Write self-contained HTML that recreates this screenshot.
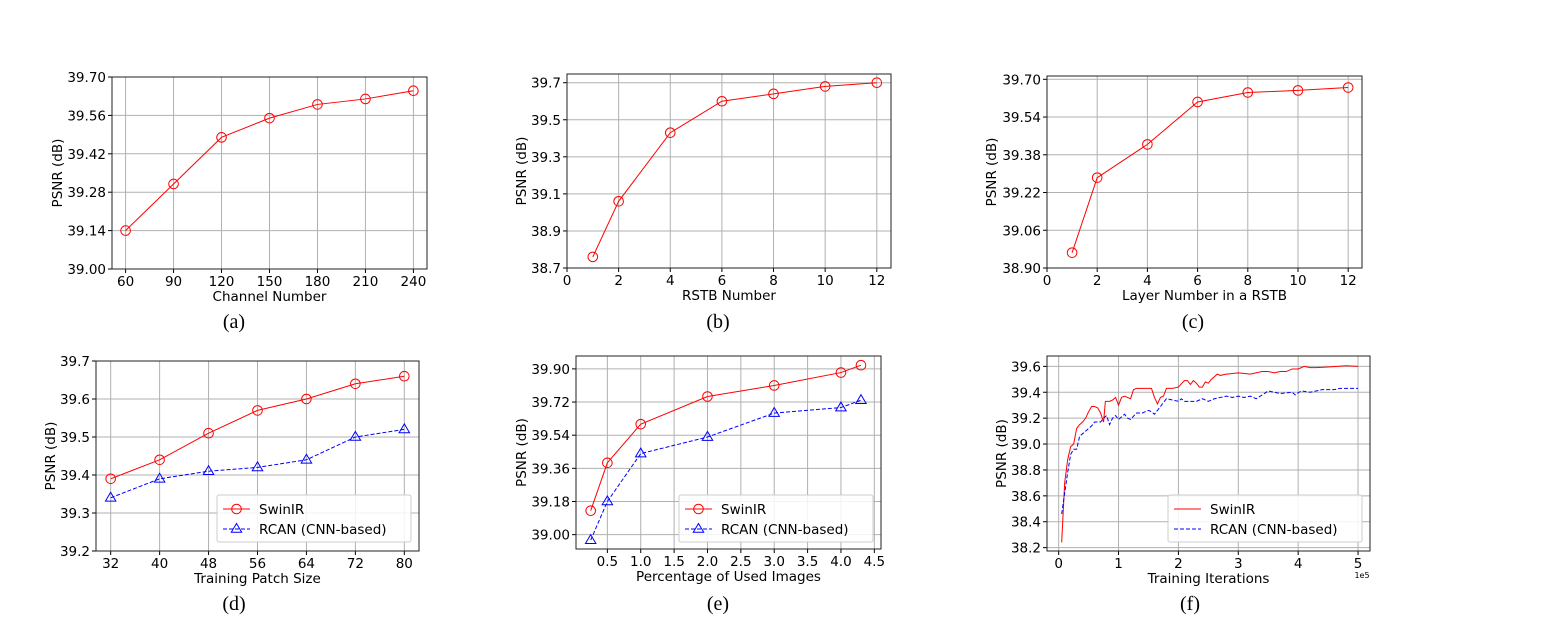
<!DOCTYPE html>
<html><head><meta charset="utf-8"><style>
body{margin:0;background:#fff;}
svg{display:block;font-family:"DejaVu Sans","Liberation Sans",sans-serif;}
</style></head><body>
<svg id="fig" width="1543" height="626" viewBox="0 0 1543 626" xmlns="http://www.w3.org/2000/svg"></svg>
<script>
// ---- data ----
const aX=[60,90,120,150,180,210,240];
const aY=[39.14,39.31,39.48,39.55,39.60,39.62,39.65];
const aTicksX=[60,90,120,150,180,210,240];
const aTicksY=["39.00","39.14","39.28","39.42","39.56","39.70"];

const bX=[1,2,4,6,8,10,12];
const bY=[38.76,39.06,39.43,39.60,39.64,39.68,39.70];
const bTicksX=[0,2,4,6,8,10,12];
const bTicksY=["38.7","38.9","39.1","39.3","39.5","39.7"];

const cX=[1,2,4,6,8,10,12];
const cY=[38.965,39.283,39.424,39.604,39.644,39.653,39.665];
const cTicksX=[0,2,4,6,8,10,12];
const cTicksY=["38.90","39.06","39.22","39.38","39.54","39.70"];

const dX=[32,40,48,56,64,72,80];
const dSwin=[39.39,39.44,39.51,39.57,39.60,39.64,39.66];
const dRcan=[39.34,39.39,39.41,39.42,39.44,39.50,39.52];
const dTicksX=[32,40,48,56,64,72,80];
const dTicksY=["39.2","39.3","39.4","39.5","39.6","39.7"];

const eX=[0.25,0.5,1,2,3,4,4.3];
const eSwin=[39.13,39.39,39.60,39.75,39.81,39.88,39.92];
const eRcan=[38.97,39.18,39.44,39.53,39.66,39.69,39.73];
const eTicksX=["0.5","1.0","1.5","2.0","2.5","3.0","3.5","4.0","4.5"];
const eTicksY=["39.00","39.18","39.36","39.54","39.72","39.90"];

const fSwinX=[0.05,0.1,0.15,0.2,0.25,0.3,0.35,0.4,0.45,0.5,0.55,0.6,0.65,0.7,0.75,0.78,0.85,0.9,0.95,1.0,1.05,1.1,1.2,1.25,1.3,1.4,1.5,1.55,1.6,1.65,1.7,1.75,1.8,1.9,2.0,2.1,2.15,2.2,2.25,2.3,2.35,2.4,2.45,2.5,2.55,2.65,2.7,2.8,3.0,3.2,3.4,3.5,3.6,3.7,3.8,3.9,4.0,4.1,4.2,4.3,4.5,4.8,5.0];
const fSwinY=[38.24,38.7,38.88,38.98,39.0,39.12,39.15,39.17,39.2,39.25,39.29,39.29,39.28,39.24,39.17,39.33,39.33,39.34,39.36,39.3,39.36,39.37,39.35,39.42,39.43,39.43,39.43,39.43,39.36,39.31,39.36,39.37,39.43,39.43,39.44,39.49,39.49,39.46,39.49,39.47,39.44,39.44,39.48,39.47,39.5,39.54,39.53,39.54,39.55,39.54,39.56,39.56,39.55,39.56,39.56,39.58,39.58,39.6,39.59,39.59,39.595,39.605,39.6];
const fRcanX=[0.05,0.1,0.15,0.2,0.25,0.3,0.35,0.4,0.45,0.5,0.55,0.6,0.7,0.75,0.8,0.85,0.9,0.95,1.0,1.1,1.15,1.2,1.3,1.4,1.5,1.55,1.6,1.7,1.8,1.9,2.0,2.05,2.1,2.3,2.4,2.5,2.6,2.7,2.8,2.9,3.0,3.1,3.2,3.3,3.5,3.7,3.9,3.95,4.05,4.2,4.4,4.6,4.7,5.0];
const fRcanY=[38.46,38.62,38.78,38.92,38.96,38.96,39.06,39.08,39.1,39.12,39.14,39.17,39.17,39.2,39.22,39.15,39.2,39.22,39.19,39.23,39.2,39.19,39.24,39.24,39.26,39.25,39.23,39.29,39.35,39.34,39.33,39.35,39.33,39.33,39.35,39.33,39.35,39.36,39.37,39.36,39.37,39.36,39.37,39.35,39.41,39.39,39.4,39.38,39.41,39.4,39.42,39.42,39.43,39.43];
const fTicksX=[0,1,2,3,4,5];
const fTicksY=["38.2","38.4","38.6","38.8","39.0","39.2","39.4","39.6"];

// ---- drawing ----
const NS="http://www.w3.org/2000/svg";
const svg=document.getElementById('fig');
function mk(tag,attrs,parent,text){const e=document.createElementNS(NS,tag);for(const k in attrs)e.setAttribute(k,attrs[k]);if(text!==undefined)e.textContent=text;(parent||svg).appendChild(e);return e;}

function panel(p){
  const g=mk('g',{});
  
  
  const sx=v=>p.L+(v-p.x0)/(p.x1-p.x0)*(p.R-p.L);
  const sy=v=>p.B-(v-p.y0)/(p.y1-p.y0)*(p.B-p.T);
  p.tx.forEach(t=>{const v=parseFloat(t);const x=sx(v);
    const gl=mk('line',{x1:x,x2:x,y1:p.T,y2:p.B,stroke:'#b0b0b0','stroke-width':1},g);
    
    mk('line',{x1:x,x2:x,y1:p.B,y2:p.B+4,stroke:'#000','stroke-width':1},g);
    const tl=mk('text',{x:x,y:p.B+17,'font-size':13.5,'text-anchor':'middle',fill:'#000'},g,String(t));
    
  });
  p.ty.forEach(t=>{const v=parseFloat(t);const y=sy(v);
    const gl=mk('line',{x1:p.L,x2:p.R,y1:y,y2:y,stroke:'#b0b0b0','stroke-width':1},g);
    
    mk('line',{x1:p.L-4,x2:p.L,y1:y,y2:y,stroke:'#000','stroke-width':1},g);
    const tl=mk('text',{x:p.L-6,y:y+5,'font-size':13.5,'text-anchor':'end',fill:'#000'},g,t);
    
  });
  const fr=mk('rect',{x:p.L,y:p.T,width:p.R-p.L,height:p.B-p.T,fill:'none',stroke:'#222','stroke-width':1},g);
  
  p.series.forEach(s=>{
    const pts=s.x.map((v,i)=>sx(v).toFixed(2)+','+sy(s.y[i]).toFixed(2)).join(' ');
    const pl=mk('polyline',{points:pts,fill:'none',stroke:s.color,'stroke-width':1,'stroke-dasharray':s.dash||'none'},g);
    
    if(s.marker){s.x.forEach((v,i)=>{
      const m=marker(g,s.marker,sx(v),sy(s.y[i]),s.color);
      
    });}
  });
  const xl=mk('text',{x:(p.L+p.R)/2,y:p.B+32,'font-size':13.5,'text-anchor':'middle',fill:'#000'},g,p.xlabel);
  
  const yx=p.ylx,yy=(p.T+p.B)/2;
  const yl=mk('text',{x:yx,y:yy,'font-size':13.5,'text-anchor':'middle',fill:'#000',transform:`rotate(-90 ${yx} ${yy})`},g,'PSNR (dB)');
  
  const cap=mk('text',{x:p.capx,y:p.capy,'font-size':20,'text-anchor':'middle',fill:'#000','font-family':'"Liberation Serif",serif'},g,p.cap);
  
  if(p.legend){const lg=p.legend;
    const lgg=mk('g',{},g);
    
    mk('rect',{x:lg.x,y:lg.y,width:lg.w,height:47,fill:'#fff','fill-opacity':0.85,stroke:'#ccc','stroke-width':1,rx:2},lgg);
    p.series.forEach((s,i)=>{const yy=lg.y+14+i*20;
      const en=mk('g',{},lgg);
      
      mk('line',{x1:lg.x+6,x2:lg.x+33,y1:yy,y2:yy,stroke:s.color,'stroke-width':1,'stroke-dasharray':s.dash||'none'},en);
      if(s.marker)marker(en,s.marker,lg.x+19.5,yy,s.color);
      mk('text',{x:lg.x+42,y:yy+5,'font-size':13.5,fill:'#000'},en,s.label);
    });
  }
}
function marker(g,type,x,y,c){
  if(type==='o')return mk('circle',{cx:x,cy:y,r:4.8,fill:'none',stroke:c,'stroke-width':1},g);
  const r=5.5;
  return mk('polygon',{points:`${x},${y-r} ${x-r*0.95},${y+r*0.6} ${x+r*0.95},${y+r*0.6}`,fill:'none',stroke:c,'stroke-width':1},g);
}

panel({name:'panel-a-channel-number',L:112,R:427,T:77,B:269,x0:51.5,x1:248.5,y0:39.0,y1:39.7,tx:aTicksX,ty:aTicksY,xlabel:'Channel Number',ylx:62,cap:'(a)',capx:234,capy:328,
  series:[{id:'swinir',x:aX,y:aY,color:'#ff0000',marker:'o',label:'SwinIR'}]});
panel({name:'panel-b-rstb-number',L:567,R:891,T:74,B:268,x0:0,x1:12.55,y0:38.7,y1:39.747,tx:bTicksX,ty:bTicksY,xlabel:'RSTB Number',ylx:526,cap:'(b)',capx:718,capy:328,
  series:[{id:'swinir',x:bX,y:bY,color:'#ff0000',marker:'o',label:'SwinIR'}]});
panel({name:'panel-c-layer-number',L:1047,R:1362,T:76,B:268,x0:0,x1:12.55,y0:38.9,y1:39.714,tx:cTicksX,ty:cTicksY,xlabel:'Layer Number in a RSTB',ylx:996,cap:'(c)',capx:1193,capy:328,
  series:[{id:'swinir',x:cX,y:cY,color:'#ff0000',marker:'o',label:'SwinIR'}]});
panel({name:'panel-d-patch-size',L:96,R:419,T:361,B:551,x0:29.6,x1:82.4,y0:39.2,y1:39.7,tx:dTicksX,ty:dTicksY,xlabel:'Training Patch Size',ylx:55,cap:'(d)',capx:234,capy:610,
  legend:{x:217,y:495,w:194},
  series:[{id:'swinir',x:dX,y:dSwin,color:'#ff0000',marker:'o',label:'SwinIR'},
          {id:'rcan',x:dX,y:dRcan,color:'#0000ff',marker:'^',dash:'4,2',label:'RCAN (CNN-based)'}]});
panel({name:'panel-e-used-images',L:576,R:881,T:356,B:549,x0:0.03,x1:4.6,y0:38.922,y1:39.97,tx:eTicksX,ty:eTicksY,xlabel:'Percentage of Used Images',ylx:526,cap:'(e)',capx:718,capy:610,
  legend:{x:679,y:495,w:194},
  series:[{id:'swinir',x:eX,y:eSwin,color:'#ff0000',marker:'o',label:'SwinIR'},
          {id:'rcan',x:eX,y:eRcan,color:'#0000ff',marker:'^',dash:'4,2',label:'RCAN (CNN-based)'}]});
panel({name:'panel-f-training-iterations',L:1047,R:1370,T:356,B:551,x0:-0.195,x1:5.2,y0:38.174,y1:39.68,tx:fTicksX,ty:fTicksY,xlabel:'Training Iterations',ylx:1006,cap:'(f)',capx:1190,capy:610,
  legend:{x:1168,y:495,w:194},
  series:[{id:'swinir',x:fSwinX,y:fSwinY,color:'#ff0000',label:'SwinIR'},
          {id:'rcan',x:fRcanX,y:fRcanY,color:'#0000ff',dash:'4,2',label:'RCAN (CNN-based)'}]});
const ex=mk('text',{x:1362,y:578,'font-size':8,'text-anchor':'middle',fill:'#000'},svg,'1e5');


</script>
</body></html>
